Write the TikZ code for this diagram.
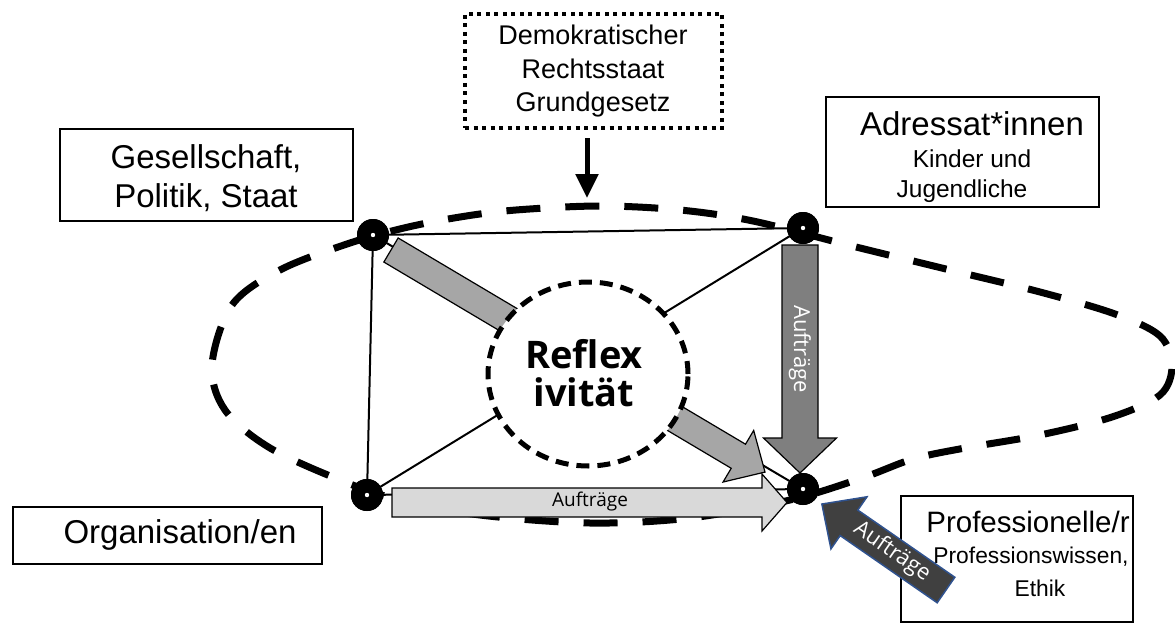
\documentclass[tikz,border=0pt]{standalone}
\usepackage{fontspec}
\setmainfont{Liberation Sans}
\newfontfamily\osans{Open Sans}
\usetikzlibrary{arrows.meta,shapes.geometric,calc}

\definecolor{arrowmid}{HTML}{A6A6A6}
\definecolor{arrowdark}{HTML}{7F7F7F}
\definecolor{arrowlight}{HTML}{D9D9D9}
\definecolor{arrowdeep}{HTML}{404040}
\definecolor{arrowedge}{HTML}{2F528F}

% block arrow: style, x, y, angle, length, head length, shaft half width, head half width
\newcommand\blockarr[8]{%
  \begin{scope}[shift={(#2,#3)},rotate=#4]
    \draw[#1] (0,-#7) -- ({#5-#6},-#7) -- ({#5-#6},-#8) -- (#5,0)
      -- ({#5-#6},#8) -- ({#5-#6},#7) -- (0,#7) -- cycle;
  \end{scope}}

\begin{document}
\begin{tikzpicture}[x=1pt,y=-1pt,
  labelbox/.style={draw, line width=2.5pt, fill=white, inner sep=0pt},
  dotbox/.style={draw, line width=4pt, dash pattern=on 4pt off 4.5pt, fill=white, inner sep=0pt},
  big/.style={font=\fontsize{33}{39}\selectfont, inner sep=0pt, anchor=base},
  small/.style={font=\fontsize{24.5}{30}\selectfont, inner sep=0pt, anchor=base},
  cornerdot/.style={circle, fill=black, minimum size=32pt, inner sep=0pt},
  edgeline/.style={line width=2pt},
  outerring/.style={line width=7pt, dash pattern=on 34pt off 25pt},
  reflring/.style={ellipse, draw, fill=white, line width=5pt, dash pattern=on 13pt off 8pt,
    minimum width=200pt, minimum height=184pt, inner sep=0pt},
  arrowtext/.style={font=\osans\fontsize{22}{24}\selectfont, inner sep=0pt},
  midarrow/.style={fill=arrowmid, draw=black, line width=1.2pt},
  darkarrow/.style={fill=arrowdark, draw=black, line width=1.2pt},
  lightarrow/.style={fill=arrowlight, draw=black, line width=1.2pt},
  deeparrow/.style={fill=arrowdeep, draw=arrowedge, line width=1.5pt},
  toparrow/.style={line width=5pt, -{Triangle[width=22pt,length=24pt]}}
]
\useasboundingbox (0,0) rectangle (1175,634);

% outer dashed ring
\draw[outerring] plot[smooth cycle, tension=0.55] coordinates {
  (212,365) (232,305) (280,270) (347,244) (404,228) (460,217) (516,210)
  (600,206) (680,210) (753,221) (852,246) (950,270) (1040,292) (1115,314)
  (1160,336) (1172,366) (1160,395) (1112,417) (1040,435) (965,448) (913,459)
  (862,478) (790,500) (690,518) (590,523) (480,515) (400,500) (345,482)
  (270,448) (225,410)};

% corner points
\node[cornerdot] (tl) at (373,235) {};
\node[cornerdot] (tr) at (803,228) {};
\node[cornerdot] (bl) at (367,495) {};
\node[cornerdot] (br) at (803,489) {};

% frame and diagonals
\draw[edgeline] (tl.center) -- (tr.center);
\draw[edgeline] (tl.center) -- (bl.center);
\draw[edgeline] (bl.center) -- (br.center);
\draw[edgeline] (tr.center) -- (bl.center);
\draw[edgeline] (tl.center) -- (br.center);

% long diagonal arrow (passes under the reflexivity ring)
\blockarr{midarrow}{391}{250}{-30.7}{435}{31}{14}{30}

% reflexivity ring
\node[reflring] (refl) at (588,374) {};
\node[font=\osans\bfseries\fontsize{38}{40}\selectfont, inner sep=0pt, anchor=base] (refla) at (584,368) {Reflex};
\node[font=\osans\bfseries\fontsize{38}{40}\selectfont, inner sep=0pt, anchor=base] (reflb) at (584,406) {ivität};

% vertical and horizontal arrows
\blockarr{darkarrow}{800}{245}{-90}{228}{35}{18}{36.5}
\node[arrowtext, text=white, rotate=-90] (vtext) at (800,349) {Aufträge};
\blockarr{lightarrow}{392}{502.5}{0}{395}{25}{14.5}{28.5}
\node[arrowtext, font=\osans\fontsize{19}{21}\selectfont] (htext) at (590,502) {Aufträge};

% corner points on top
\foreach \p in {tl,tr,bl,br}{
  \fill[black] (\p) circle (16);
  \fill[white] (\p) circle (2.2);
}

% labelled boxes
\node[labelbox, minimum width=293pt, minimum height=92pt] (ges) at (206.5,175) {};
\node[big] (gesa) at (206,168) {Gesellschaft,};
\node[big] (gesb) at (206,207) {Politik, Staat};

\node[labelbox, minimum width=273pt, minimum height=110pt] (adr) at (962.5,152) {};
\node[big] (adra) at (972,135) {Adressat*innen};
\node[small] (adrb) at (972,167) {Kinder und};
\node[small] (adrc) at (962,197) {Jugendliche};

\node[labelbox, minimum width=309pt, minimum height=57pt] (org) at (167.5,535.5) {};
\node[big] (orga) at (180,543) {Organisation/en};

\node[labelbox, minimum width=232pt, minimum height=126pt] (prof) at (1017,559) {};
\node[big, font=\fontsize{29.5}{34}\selectfont] (profa) at (1028,532) {Professionelle/r};
\node[small, font=\fontsize{22.8}{28}\selectfont] (profb) at (1031,563) {Professionswissen,};
\node[small, font=\fontsize{22.8}{28}\selectfont] (profc) at (1040,596) {Ethik};

% framework box with arrow
\node[dotbox, minimum width=257pt, minimum height=114pt] (demo) at (593.5,71) {};
\node[small, font=\fontsize{27}{33}\selectfont] (demoa) at (593,45) {Demokratischer};
\node[small, font=\fontsize{27}{33}\selectfont] (demob) at (593,78) {Rechtsstaat};
\node[small, font=\fontsize{27}{33}\selectfont] (democ) at (593,111) {Grundgesetz};
\coordinate (demoend) at (587,198);
\draw[toparrow] ($(demo.south -| demoend)+(0,8)$) -- (demoend);

% arrow from the professional
\blockarr{deeparrow}{946}{590}{145.3}{151}{33}{15.5}{31.7}
\node[arrowtext, text=white, rotate=-34.7] (dtext) at (892,552) {Aufträge};

\end{tikzpicture}
\end{document}
